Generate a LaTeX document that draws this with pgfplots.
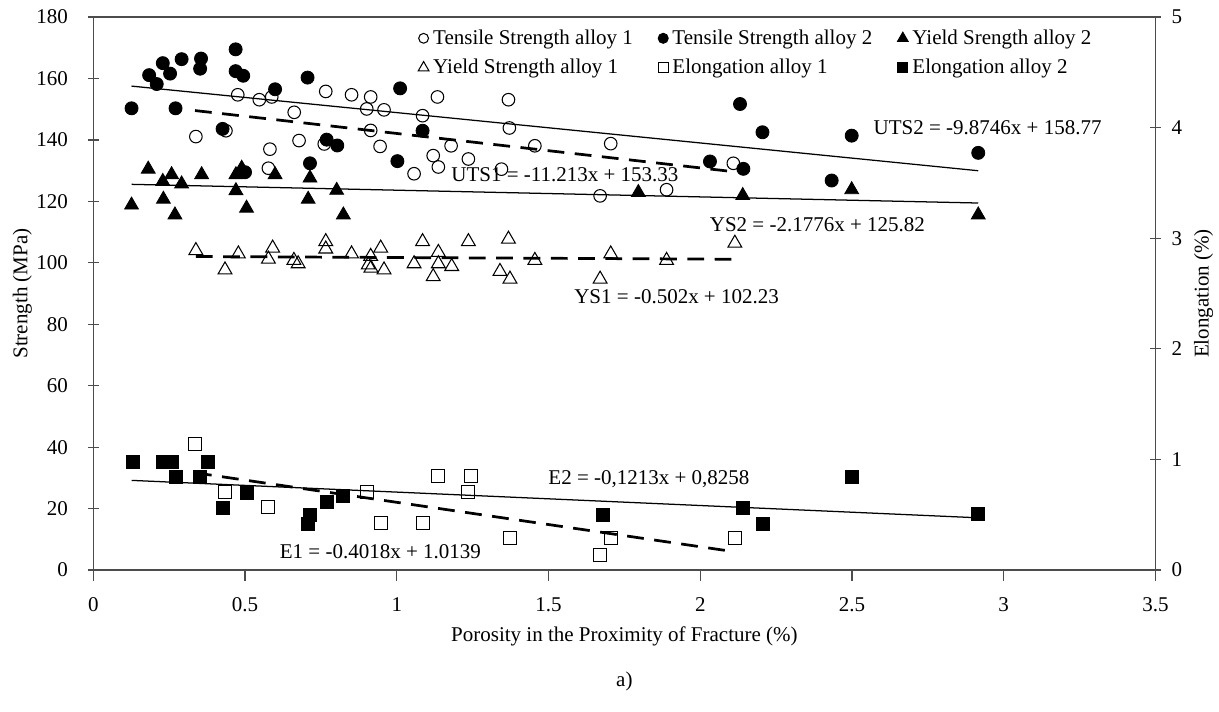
\documentclass[border=0pt]{standalone}
\usepackage{fontspec}
\setmainfont{Liberation Serif}
\usepackage{pgfplots}
\pgfplotsset{compat=1.18}

\pgfplotsset{
  ts1/.style={only marks, mark=o, mark size=3pt, black, mark options={line width=0.5pt}},
  ts2/.style={only marks, mark=*, mark size=3.1pt, black},
  ys1/.style={only marks, mark=triangle, mark size=3.8pt, black, mark options={line width=0.5pt}},
  ys2/.style={only marks, mark=triangle*, mark size=3.8pt, black},
  el1/.style={only marks, mark=square, mark size=3.1pt, black, mark options={line width=0.5pt}},
  el2/.style={only marks, mark=square*, mark size=3.1pt, black},
  fitsolid/.style={no marks, black, line width=0.6pt},
  fitdash/.style={no marks, black, line width=1.3pt, dash pattern=on 8pt off 5pt},
  common/.style={
    width=505.8pt, height=263.3pt, scale only axis,
    xmin=0, xmax=3.5,
    tick align=center, major tick length=5.2pt,
    axis line style={line width=0.6pt, black!70},
    tick style={line width=0.6pt, black!70},
    /pgf/number format/assume math mode=true,
  },
}

\begin{document}
\begin{tikzpicture}
\begin{axis}[common,
  ymin=0, ymax=180,
  xtick={0,0.5,...,3.5}, ytick={0,20,...,180},
  xtick pos=bottom, ytick pos=left,
  every x tick/.append style={yshift=-2.6pt},
  xticklabel style={yshift=-7pt},
  yticklabel style={xshift=-6pt},
  xlabel={Porosity in the Proximity of Fracture (\%)},
  ylabel={Strength (MPa)},
  xlabel style={at={(axis description cs:0.5,-0.1193)}, anchor=center},
  ylabel style={at={(axis description cs:-0.0668,0.5)}, anchor=center},
]
% Tensile strength alloy 1
\addplot[ts1] coordinates {
(0.338,141.1)(0.437,143.0)(0.476,154.7)(0.547,153.1)(0.577,130.8)(0.582,137.0)
(0.588,154.0)(0.662,149.0)(0.678,139.8)(0.761,138.7)(0.766,155.8)(0.851,154.7)
(0.901,150.1)(0.914,154.0)(0.914,143.1)(0.945,137.9)(0.958,149.8)(1.057,129.0)
(1.085,147.9)(1.120,134.9)(1.134,154.0)(1.137,131.2)(1.179,138.1)(1.236,133.8)
(1.345,130.5)(1.368,153.1)(1.371,143.9)(1.455,138.1)(1.670,121.8)(1.705,138.8)
(1.889,123.8)(2.109,132.4)};
% Tensile strength alloy 2
\addplot[ts2] coordinates {
(0.126,150.3)(0.184,161.1)(0.209,158.2)(0.229,165.0)(0.253,161.6)(0.271,150.3)
(0.291,166.3)(0.352,163.2)(0.355,166.5)(0.426,143.6)(0.469,169.5)(0.469,162.4)
(0.494,160.9)(0.500,129.5)(0.599,156.5)(0.706,160.3)(0.714,132.4)(0.769,140.1)
(0.804,138.2)(1.002,133.1)(1.011,156.8)(1.085,143.0)(2.032,133.0)(2.131,151.7)
(2.142,130.6)(2.205,142.5)(2.433,126.8)(2.499,141.4)(2.916,135.8)};
% Yield strength alloy 1
\addplot[ys1] coordinates {
(0.338,104.0)(0.434,97.7)(0.478,102.9)(0.577,101.2)(0.591,104.8)(0.661,100.8)
(0.675,99.7)(0.766,106.9)(0.766,104.5)(0.851,102.9)(0.906,99.3)(0.914,102.1)
(0.915,98.3)(0.947,104.8)(0.958,97.7)(1.057,99.7)(1.085,106.9)(1.120,95.5)
(1.137,103.4)(1.137,99.7)(1.181,98.8)(1.236,106.9)(1.340,97.2)(1.368,107.7)
(1.373,94.7)(1.455,100.8)(1.670,94.7)(1.705,102.9)(1.889,100.8)(2.114,106.4)};
% Yield strength alloy 2
\addplot[ys2] coordinates {
(0.126,118.8)(0.181,130.5)(0.229,126.5)(0.231,120.7)(0.258,128.7)(0.269,115.6)
(0.291,125.7)(0.357,128.7)(0.470,128.7)(0.470,123.5)(0.489,130.8)(0.505,117.8)
(0.599,128.7)(0.708,120.7)(0.714,127.6)(0.802,123.6)(0.824,115.6)(1.796,122.9)
(2.140,121.9)(2.499,123.8)(2.916,115.6)};
% trend lines
\addplot[fitsolid] coordinates {(0.126,157.53) (2.916,129.98)};
\addplot[fitsolid] coordinates {(0.126,125.55) (2.916,119.47)};
\addplot[fitdash] coordinates {(0.335,149.57) (2.109,129.68)};
\addplot[fitdash] coordinates {(0.338,102.06) (2.114,101.17)};

\node at (axis cs:1.554,128.7) {UTS1 = -11.213x + 153.33};
\node at (axis cs:2.947,143.9) {UTS2 = -9.8746x + 158.77};
\node at (axis cs:2.386,112.4) {YS2 = -2.1776x + 125.82};
\node at (axis cs:1.922,89.0) {YS1 = -0.502x + 102.23};
\node at (axis cs:1.831,29.5) {E2 = -0,1213x + 0,8258};
\node at (axis cs:0.946,6.0) {E1 = -0.4018x + 1.0139};
\end{axis}

\begin{axis}[common,
  ymin=0, ymax=5, ytick={0,1,...,5},
  axis x line=none, axis y line*=right,
  yticklabel style={xshift=1.5pt},
  ylabel={Elongation (\%)},
  ylabel style={at={(axis description cs:1.0452,0.5)}, anchor=center, rotate=0},
  legend columns=3,
  legend cell align=left,
  legend style={at={(0.3055,0.986)}, anchor=north west, draw=none, fill=none,
    inner sep=0pt, row sep=1.6pt,
    /tikz/every even column/.append style={column sep=10pt}},
  legend image code/.code={\draw[mark repeat=2, mark phase=2, #1,
    every mark/.append style={scale=0.78}]
    plot coordinates {(0cm,0cm) (0.15cm,0cm) (0.425cm,0cm)};},
]
\addlegendimage{ts1}
\addlegendimage{ts2}
\addlegendimage{ys2}
\addlegendimage{ys1}
% Elongation alloy 1
\addplot[el1] coordinates {
(0.335,1.139)(0.434,0.708)(0.577,0.567)(0.903,0.708)(0.947,0.422)(1.085,0.428)
(1.135,0.850)(1.236,0.708)(1.244,0.850)(1.373,0.287)(1.670,0.136)(1.705,0.287)
(2.114,0.287)};
% Elongation alloy 2
\addplot[el2] coordinates {
(0.129,0.979)(0.229,0.979)(0.258,0.979)(0.271,0.844)(0.352,0.844)(0.377,0.979)
(0.426,0.558)(0.505,0.699)(0.708,0.416)(0.714,0.497)(0.771,0.618)(0.824,0.669)
(1.678,0.497)(2.142,0.558)(2.206,0.416)(2.499,0.838)(2.916,0.503)};
\addplot[fitdash, forget plot] coordinates {(0.335,0.8793) (2.114,0.1645)};
\addplot[fitsolid, forget plot] coordinates {(0.126,0.8105) (2.916,0.4721)};
\legend{Tensile Strength alloy 1, Tensile Strength alloy 2, Yield Srength alloy 2,
  Yield Strength alloy 1, Elongation alloy 1, Elongation alloy 2}
\end{axis}

\node at (252.9pt,-53.3pt) {a)};
\pgfresetboundingbox
\path[use as bounding box] (-44.43pt,-67.14pt) rectangle (536.05pt,271.43pt);
\end{tikzpicture}
\end{document}
